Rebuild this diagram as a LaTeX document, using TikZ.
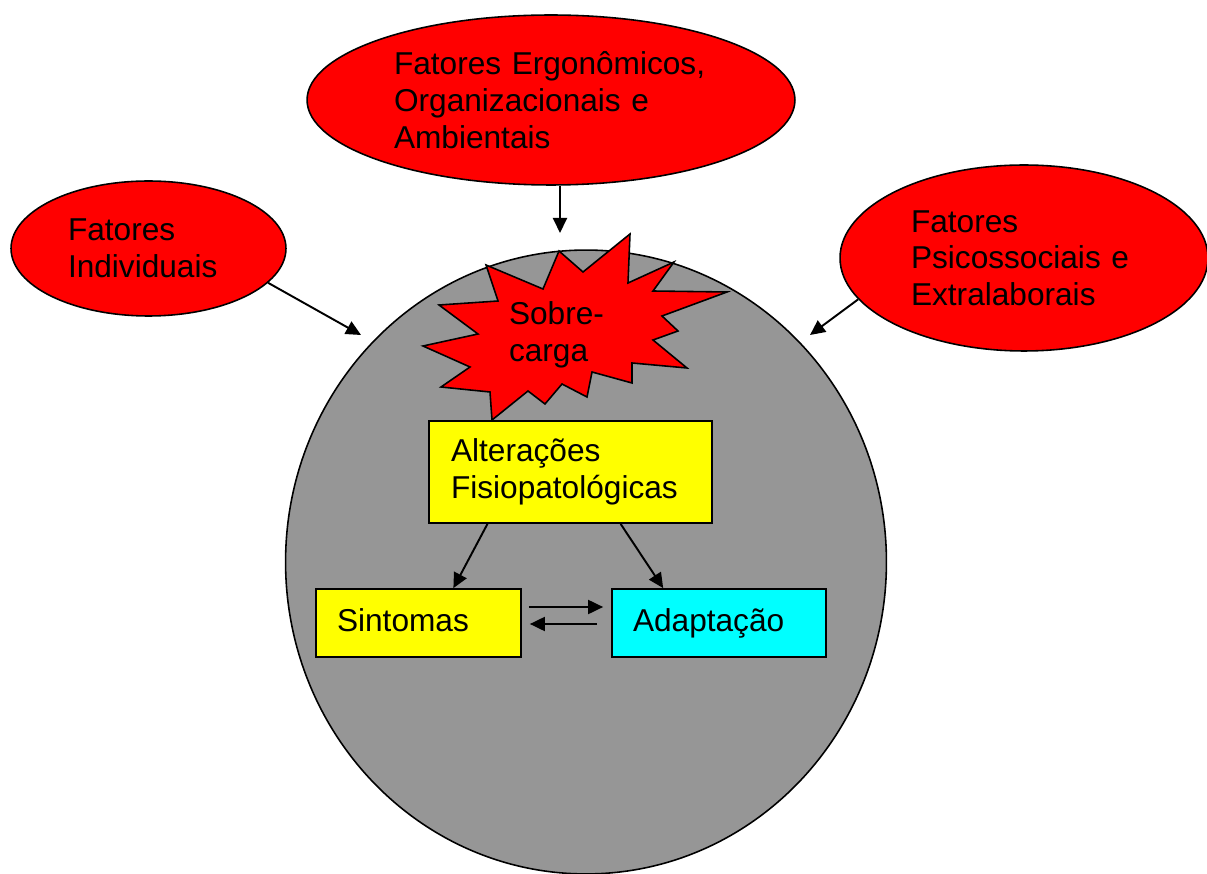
\documentclass[tikz,border=0pt]{standalone}
\usepackage{fontspec}
\setmainfont{Liberation Sans}
\usetikzlibrary{shapes.geometric,arrows.meta}

\definecolor{bodygray}{RGB}{150,150,150}
\definecolor{factorred}{RGB}{255,0,0}
\definecolor{boxyellow}{RGB}{255,255,0}
\definecolor{boxcyan}{RGB}{0,255,255}

\begin{document}
\begin{tikzpicture}
[
	x=0.02cm, y=-0.02cm,
	every node/.style={font=\fontsize{18}{20.9}\selectfont},
	factor/.style={ellipse,draw,fill=factorred,line width=0.9pt,inner sep=0pt,align=left},
	box/.style={rectangle,draw,line width=1pt,inner sep=0pt,align=left},
	onebox/.style={box,text height=13.5pt,text depth=4pt},
	arr/.style={-{Triangle[length=0.3cm,width=0.28cm]},line width=1.1pt}
]
	\useasboundingbox (0,0) rectangle (1207,874);

	% body
	\node[ellipse, draw, fill=bodygray, line width=0.9pt, minimum width=12.02cm, minimum height=12.48cm] (body) at (586,562) {};

	% overload
	\draw[fill=factorred, line width=0.9pt, line join=miter]
		(486,265) -- (543,289) -- (559,251) -- (583,272) -- (630,234) -- (628,283)
		-- (674,262) -- (653,291) -- (727,292) -- (662,316) -- (678,331) -- (653,340)
		-- (687,368) -- (632,363) -- (632,383) -- (592,372) -- (587,397) -- (562,384)
		-- (545,404) -- (528,391) -- (492,420) -- (490,392) -- (441,387) -- (470,367)
		-- (423,346) -- (478,334) -- (439,305) -- (498,301) -- cycle;
	\node[inner sep=0pt, align=left] (over) at (556.5,334.5) {Sobre-\\carga};

	% factors
	\node[factor, minimum width=9.76cm, minimum height=3.4cm, text width=6.28cm] (ergo) at (551,100) {Fatores Ergonômicos,\\Organizacionais e\\Ambientais};
	\node[factor, minimum width=5.5cm, minimum height=2.7cm, text width=3.22cm] (indiv) at (148.5,248.5) {Fatores\\Individuais};
	\node[factor, minimum width=7.36cm, minimum height=3.72cm, text width=4.52cm] (psico) at (1024,258) {Fatores\\Psicossociais e\\Extralaborais};

	% boxes
	\node[box, fill=boxyellow, minimum width=5.66cm, minimum height=2.04cm, text width=4.78cm] (alter) at (570.5,472) {Alterações\\Fisiopatológicas};
	\node[onebox, fill=boxyellow, minimum width=4.1cm, minimum height=1.36cm, text width=3.26cm] (sint) at (418.5,623) {Sintomas};
	\node[onebox, fill=boxcyan, minimum width=4.28cm, minimum height=1.36cm, text width=3.44cm] (adapt) at (719,623) {Adaptação};

	% arrows
	\coordinate (ergo in) at (560,233);
	\coordinate (indiv in) at (361,335);
	\coordinate (psico in) at (810,335);
	\draw[arr] (ergo.south -| ergo in) -- (ergo in);
	\draw[arr] (indiv.-16) -- (indiv in);
	\draw[arr] (psico.194) -- (psico in);

	\draw[arr] (alter.212) -- (sint.45);
	\draw[arr] (alter.-46) -- (adapt.148);
	\draw[arr] ([xshift=0.14cm, yshift=0.32cm]sint.east) -- ([xshift=-0.16cm, yshift=0.32cm]adapt.west);
	\draw[arr] ([xshift=-0.28cm, yshift=-0.02cm]adapt.west) -- ([xshift=0.16cm, yshift=-0.02cm]sint.east);

\end{tikzpicture}
\end{document}
